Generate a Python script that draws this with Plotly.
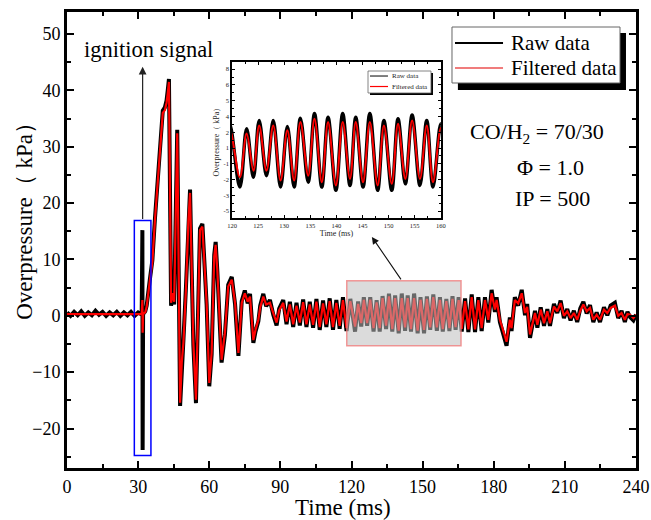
import plotly.graph_objects as go

# ---------------- data ----------------
time_ms = [
    0.0, 1.5, 3.0, 4.5, 6.0, 7.5, 9.0, 10.5, 12.0, 13.5, 15.0, 16.5, 18.0, 19.5, 21.0, 22.5, 24.0, 25.5, 27.0, 28.5, 30.0, 31.5,
    31.8, 31.9, 32.1, 33.0, 33.6, 35.0, 36.0, 37.1, 38.2, 39.2, 40.4, 41.3, 42.0, 42.5, 43.0,
    43.9, 44.6, 45.2, 45.8, 46.5, 47.7, 48.4, 49.1, 50.2, 51.2, 51.9, 52.6, 53.3, 54.4, 55.3, 56.1, 57.1, 57.8, 58.9, 60.0,
    61.0, 62.1, 62.7, 63.4, 64.2, 65.2, 66.6, 68.0, 69.5, 70.9, 72.3, 73.7,
    75.0, 76.2, 77.2, 78.6, 79.5, 80.7, 81.5, 82.8, 84.0, 85.6, 87.0, 88.4, 89.5, 91.2, 92.6, 94.0, 95.4, 96.8, 98.2, 99.6,
    101.0, 102.4, 103.8, 105.2, 106.6, 108.0, 109.4, 110.8, 112.2, 113.6, 115.0, 116.4, 117.9, 119.5,
    121.5, 122.8, 124.1, 125.2, 126.6, 127.9, 129.3, 130.6, 131.9, 133.1, 134.6, 135.8, 137.2, 138.4, 139.9, 141.2,
    142.6, 143.7, 145.1, 146.4, 147.9, 149.1, 150.6, 151.8, 153.2, 154.5, 156.0, 157.3, 158.5, 160.0,
    161.3, 162.6, 163.9, 165.2, 166.5, 167.9, 169.3, 170.7, 172.1, 173.5, 174.9, 176.3, 177.7, 179.1, 180.5, 181.2,
    182.6, 184.0, 185.4, 186.8, 187.5, 188.9, 190.3, 191.8, 193.2, 194.1, 195.3,
    197.4, 198.4, 199.8, 201.2, 202.6, 203.7, 205.4, 206.8, 208.2, 209.6, 211.0, 212.4, 213.8, 215.2, 216.5, 217.8,
    219.2, 220.6, 222.0, 223.4, 224.8, 226.5, 227.9, 229.3, 231.1, 232.5, 233.9, 235.3, 236.4, 237.5, 238.9, 240.0,
]

raw_kpa = [
    0.6, 0.0, 0.7, 0.1, 0.8, 0.0, 0.6, 0.1, 0.9, 0.2, 0.7, 0.0, 0.6, 0.1, 0.7, 0.0, 0.6, 0.1, 0.7, 0.0, 0.6, 0.2,
    15.2, -23.8, 0.3, 0.8, 1.8, 6.6, 9.8, 17.3, 23.3, 29.2, 36.4, 37.0, 38.2, 40.0, 42.0,
    1.8, 4.5, 2.0, 16.5, 33.0, -16.0, -8.5, -4.3, 5.3, 17.4, 22.4, 8.0, -5.2, -15.5, 0.3, 15.5, 16.3, 10.2, 2.0, -12.5,
    -6.9, 10.8, 13.1, 8.0, -0.5, -8.3, -3.4, 5.5, 6.9, 2.0, -7.1, 2.6,
    4.5, 2.2, 3.9, -4.8, -2.8, -1.0, 1.8, 3.9, 1.7, 2.8, 0.2, -1.7, 1.3, 2.8, -1.5, 2.5, -2.0, 2.3, -1.7, 2.9,
    -2.0, 2.5, -2.1, 3.0, -2.5, 2.7, -2.0, 3.1, -2.5, 2.8, -2.3, 3.3, -2.7, 3.0,
    -2.8, 2.55, -1.9, 3.3, -1.75, 3.3, -2.8, 2.75, -2.8, 3.5, -2.35, 3.95, -2.8, 3.6, -3.1, 3.95,
    -2.65, 3.6, -2.8, 3.95, -3.1, 3.3, -3.1, 3.45, -2.5, 3.8, -2.65, 3.3, -2.8, 3.0,
    -2.7, 3.5, -2.5, 3.3, -2.8, 3.1, -2.9, 3.8, -2.9, 3.3, -2.7, 3.3, -1.2, 4.6, 0.7, 3.3,
    -1.1, -3.0, -5.3, -0.3, -2.7, 3.3, 1.8, 4.6, 0.1, 2.1, -3.9,
    0.9, -2.1, 1.5, -1.8, 1.2, -1.8, 2.1, 0.5, 2.7, -0.4, 1.2, -0.8, 0.9, -1.1, 1.3, 2.5,
    0.4, 1.9, -1.1, 0.6, -1.1, 1.5, 0.1, 1.8, 2.3, -0.4, 0.9, -1.1, 0.7, -0.2, -0.8, 0.2,
]

filtered_kpa = [
    0.3, 0.3, 0.3, 0.3, 0.3, 0.3, 0.3, 0.3, 0.4, 0.4, 0.3, 0.3, 0.3, 0.3, 0.3, 0.3, 0.3, 0.3, 0.3, 0.3, 0.3, 0.3,
    2.8, -3.0, 0.3, 0.6, 1.6, 6.4, 9.5, 17.0, 23.0, 28.9, 36.0, 36.5, 37.8, 39.5, 41.5,
    2.3, 4.0, 2.5, 16.0, 32.4, -15.4, -8.3, -4.8, 5.0, 17.0, 21.8, 8.2, -4.8, -14.9, 0.0, 15.2, 15.8, 10.5, 2.3, -11.9,
    -6.6, 10.5, 12.6, 8.2, -0.2, -7.8, -3.0, 5.2, 6.4, 2.3, -6.6, 2.3,
    4.0, 2.5, 3.4, -4.3, -2.5, -0.7, 1.5, 3.4, 2.0, 2.3, 0.5, -1.2, 1.0, 2.3, -1.0, 2.0, -1.5, 1.8, -1.2, 2.4,
    -1.5, 2.0, -1.6, 2.5, -2.0, 2.2, -1.5, 2.6, -2.0, 2.3, -1.8, 2.8, -2.2, 2.6,
    -1.9, 2.1, -1.3, 2.85, -1.3, 2.85, -2.2, 2.4, -2.2, 3.15, -1.75, 3.45, -2.35, 3.15, -2.65, 3.15,
    -2.05, 3.15, -2.35, 3.15, -2.65, 2.85, -2.5, 3.0, -2.05, 3.3, -2.05, 2.85, -2.35, 2.6,
    -2.2, 3.0, -2.0, 2.8, -2.3, 2.6, -2.4, 3.3, -2.4, 2.8, -2.2, 2.8, -0.7, 4.0, 1.1, 2.8,
    -0.7, -2.5, -4.6, -0.7, -2.2, 2.8, 2.2, 4.0, 0.5, 1.6, -3.3,
    0.5, -1.6, 1.1, -1.3, 0.8, -1.3, 1.65, 0.8, 2.25, 0.0, 0.8, -0.4, 0.5, -0.7, 0.9, 2.0,
    0.8, 1.4, -0.7, 0.2, -0.7, 1.1, 0.5, 1.4, 1.8, 0.0, 0.5, -0.7, 0.3, 0.2, -0.4, 0.2,
]

assert len(time_ms) == len(raw_kpa) == len(filtered_kpa)

main_xticks = [0, 30, 60, 90, 120, 150, 180, 210, 240]
main_yticks = [-20, -10, 0, 10, 20, 30, 40, 50]
inset_xticks = [120, 125, 130, 135, 140, 145, 150, 155, 160]
inset_ytick_vals = [8, 6.5556, 5.1111, 3.6667, 2.2222, 0.7778, -0.6667, -2.1111, -3.5556, -5]
inset_ytick_text = ["8", "6", "5", "4", "2", "1", "-1", "-2", "-3", "-5"]
inset_yminor_vals = [7.2778, 5.8333, 4.3889, 2.9444, 1.5, 0.0556, -1.3889, -2.8333, -4.2778]

FONT = "Liberation Serif"

# ---------------- figure ----------------
fig = go.Figure()
fig.add_trace(go.Scatter(x=time_ms, y=raw_kpa, mode="lines", name="Raw data",
                         line=dict(color="black", width=4), xaxis="x", yaxis="y",
                         showlegend=False, hoverinfo="skip"))
fig.add_trace(go.Scatter(x=time_ms, y=filtered_kpa, mode="lines", name="Filtered data",
                         line=dict(color="#ff0000", width=2.2), xaxis="x", yaxis="y",
                         showlegend=False, hoverinfo="skip"))
fig.add_trace(go.Scatter(x=time_ms, y=raw_kpa, mode="lines", name="Raw data",
                         line=dict(color="black", width=3.5, shape="spline"), xaxis="x2", yaxis="y2",
                         showlegend=False, hoverinfo="skip"))
fig.add_trace(go.Scatter(x=time_ms, y=filtered_kpa, mode="lines", name="Filtered data",
                         line=dict(color="#ff0000", width=2, shape="spline"), xaxis="x2", yaxis="y2",
                         showlegend=False, hoverinfo="skip"))

axis_main = dict(showgrid=False, zeroline=False, showline=True, linecolor="black", linewidth=3,
                 mirror="allticks", ticks="inside", ticklen=7, tickwidth=2.2, tickcolor="black",
                 automargin=False,
                 tickfont=dict(family=FONT, size=18, color="black"))
axis_inset = dict(showgrid=False, zeroline=False, showline=True, linecolor="black", linewidth=1.5,
                  mirror="allticks", ticks="inside", ticklen=3, tickwidth=1, tickcolor="black",
                  automargin=False,
                  tickfont=dict(family=FONT, size=6.5, color="#222"))

fig.update_layout(
    width=651, height=520,
    margin=dict(l=67, r=15, t=12, b=52),
    paper_bgcolor="white", plot_bgcolor="white",
    font=dict(family=FONT, color="black"),
    xaxis=dict(axis_main, domain=[0, 1], range=[0, 240], tickvals=main_xticks,
               minor=dict(ticks="inside", ticklen=4, tickwidth=2, tickcolor="black", dtick=15, tick0=0)),
    yaxis=dict(axis_main, domain=[0, 1], range=[-27.0, 53.9], tickvals=main_yticks,
               minor=dict(ticks="inside", ticklen=4, tickwidth=2, tickcolor="black", dtick=5, tick0=0)),
    xaxis2=dict(axis_inset, domain=[0.29, 0.657], anchor="y2", range=[120, 160], tickvals=inset_xticks,
                minor=dict(ticks="inside", ticklen=2, tickwidth=1, tickcolor="black", dtick=2.5, tick0=120),
                title=dict(text="Time (ms)", font=dict(family=FONT, size=8, color="#222"), standoff=2)),
    yaxis2=dict(axis_inset, domain=[0.548, 0.890], anchor="x2", range=[-5.64, 8.64],
                tickvals=inset_ytick_vals, ticktext=inset_ytick_text,
                minor=dict(ticks="inside", ticklen=2, tickwidth=1, tickcolor="black", tickvals=inset_yminor_vals),
                title=dict(text="Overpressure（ kPa）", font=dict(family=FONT, size=8, color="#222"), standoff=3)),
)

shapes = []
# ignition window (blue) and zoom window (grey)
shapes.append(dict(type="rect", xref="x", yref="y", x0=28.4, x1=35.4, y0=-24.8, y1=16.9,
                   line=dict(color="#0000ff", width=1.5), fillcolor="rgba(0,0,0,0)", layer="above"))
shapes.append(dict(type="rect", xref="x", yref="y", x0=118.0, x1=166.2, y0=-5.3, y1=6.2,
                   line=dict(color="rgba(240,120,120,0.75)", width=1.5),
                   fillcolor="rgba(190,190,190,0.55)", layer="above"))

# main legend (manual)
shapes.append(dict(type="rect", xref="paper", yref="paper", x0=0.687, x1=0.9824, y0=0.829, y1=0.954,
                   line=dict(width=0), fillcolor="black", layer="above"))
shapes.append(dict(type="rect", xref="paper", yref="paper", x0=0.6766, x1=0.9719, y0=0.8443, y1=0.9671,
                   line=dict(color="#666", width=1), fillcolor="white", layer="above"))
shapes.append(dict(type="line", xref="paper", yref="paper", x0=0.6819, x1=0.7663, y0=0.932, y1=0.932,
                   line=dict(color="black", width=2), layer="above"))
shapes.append(dict(type="line", xref="paper", yref="paper", x0=0.6819, x1=0.7663, y0=0.877, y1=0.877,
                   line=dict(color="#f07c7c", width=2), layer="above"))

# inset legend (manual)
shapes.append(dict(type="rect", xref="paper", yref="paper", x0=0.5325, x1=0.6432, y0=0.818, y1=0.8662,
                   line=dict(width=0), fillcolor="black", layer="above"))
shapes.append(dict(type="rect", xref="paper", yref="paper", x0=0.529, x1=0.6397, y0=0.8224, y1=0.8706,
                   line=dict(color="#666", width=0.8), fillcolor="white", layer="above"))
shapes.append(dict(type="line", xref="paper", yref="paper", x0=0.5325, x1=0.5641, y0=0.8596, y1=0.8596,
                   line=dict(color="black", width=1), layer="above"))
shapes.append(dict(type="line", xref="paper", yref="paper", x0=0.5325, x1=0.5641, y0=0.8366, y1=0.8366,
                   line=dict(color="#ff0000", width=1.2), layer="above"))

fig.update_layout(shapes=shapes)

ann = []
ann.append(dict(xref="paper", yref="paper", x=0.7768, y=0.932, xanchor="left", yanchor="middle",
                text="Raw data", showarrow=False, font=dict(family=FONT, size=21, color="black")))
ann.append(dict(xref="paper", yref="paper", x=0.7768, y=0.877, xanchor="left", yanchor="middle",
                text="Filtered data", showarrow=False, font=dict(family=FONT, size=21, color="black")))
ann.append(dict(xref="paper", yref="paper", x=0.5677, y=0.8596, xanchor="left", yanchor="middle",
                text="Raw data", showarrow=False, font=dict(family=FONT, size=7, color="#222")))
ann.append(dict(xref="paper", yref="paper", x=0.5677, y=0.8366, xanchor="left", yanchor="middle",
                text="Filtered data", showarrow=False, font=dict(family=FONT, size=7, color="#222")))
ann.append(dict(xref="paper", yref="paper", x=0.0264, y=0.9167, xanchor="left", yanchor="middle",
                text="ignition signal", showarrow=False, font=dict(family=FONT, size=22.5, color="black")))
ann.append(dict(xref="paper", yref="paper", x=0.826, y=0.7346, xanchor="center", yanchor="middle",
                text="CO/H<sub>2</sub> = 70/30", showarrow=False, font=dict(family=FONT, size=22, color="black")))
ann.append(dict(xref="paper", yref="paper", x=0.8506, y=0.660, xanchor="center", yanchor="middle",
                text="Φ = 1.0", showarrow=False, font=dict(family=FONT, size=22, color="black")))
ann.append(dict(xref="paper", yref="paper", x=0.8524, y=0.590, xanchor="center", yanchor="middle",
                text="IP = 500", showarrow=False, font=dict(family=FONT, size=22, color="black")))
# axis titles
ann.append(dict(xref="paper", yref="paper", x=0.485, y=-0.0877, xanchor="center", yanchor="middle",
                text="Time (ms)", showarrow=False, font=dict(family=FONT, size=23, color="black")))
ann.append(dict(xref="paper", yref="paper", x=-0.0738, y=0.553, xanchor="center", yanchor="middle",
                text="Overpressure（ kPa）", textangle=-90, showarrow=False,
                font=dict(family=FONT, size=23, color="black")))
# arrows
ann.append(dict(xref="x", yref="y", axref="x", ayref="y", x=31.9, y=44.2, ax=31.9, ay=16.9,
                text="", showarrow=True, arrowhead=2, arrowsize=1.3, arrowwidth=1.2, arrowcolor="#222"))
ann.append(dict(xref="x", yref="y", axref="x", ayref="y", x=128.6, y=14.0, ax=141.3, ay=6.2,
                text="", showarrow=True, arrowhead=2, arrowsize=1.3, arrowwidth=1.1, arrowcolor="#111"))
fig.update_layout(annotations=ann)

fig.write_html("out.html")
